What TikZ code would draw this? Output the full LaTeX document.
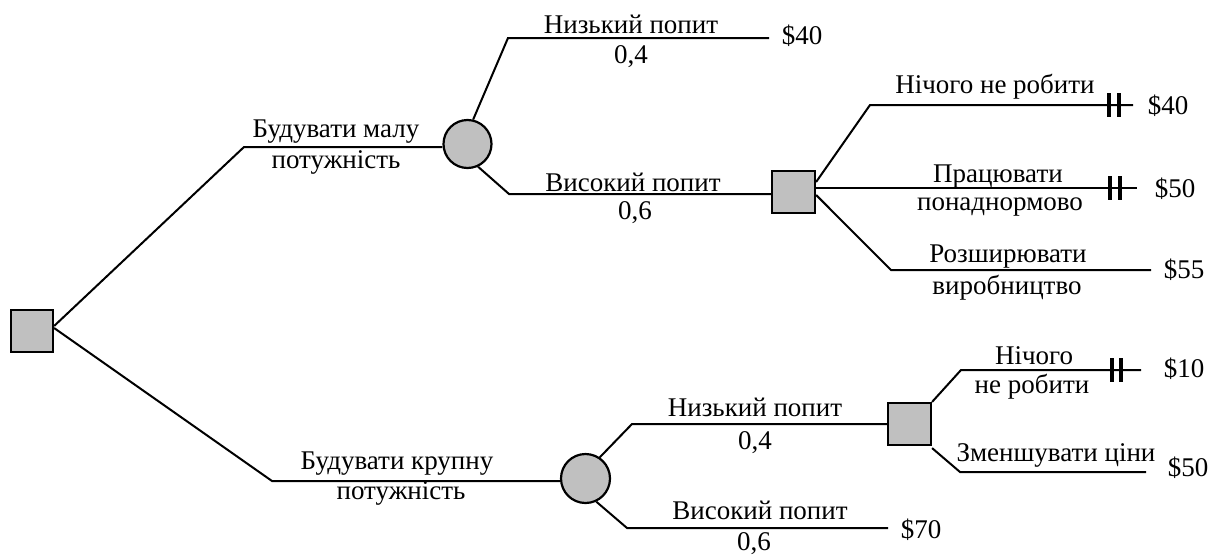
\documentclass[tikz,border=0pt]{standalone}
\usepackage{fontspec}
\setmainfont{Liberation Serif}
\begin{document}
\begin{tikzpicture}[x=1pt,y=-1pt,
  edge/.style={line width=2pt},
  decbox/.style={draw,line width=2.2pt,fill=boxgray,minimum width=42pt,minimum height=42pt,inner sep=0pt},
  chance/.style={draw,line width=2.2pt,fill=boxgray,circle,minimum size=48pt,inner sep=0pt},
  lbl/.style={font=\fontsize{27}{29}\selectfont,inner sep=0pt,anchor=center},
  tick/.style={line width=3.5pt}
]
\definecolor{boxgray}{HTML}{C0C0C0}
\useasboundingbox (0,0) rectangle (1208,555);
% nodes
\node[decbox] (root) at (32,331) {};
\node[chance] (c1) at (467.5,144) {};
\node[decbox,minimum width=43pt] (d2) at (793.5,192) {};
\node[chance,minimum size=49pt] (c2) at (585.5,478.5) {};
\node[decbox,minimum width=43pt] (d3) at (909.5,424) {};
% bend coordinates
\coordinate (f1) at (244,147);
\coordinate (f2) at (272,481);
\coordinate (a1) at (508,38);
\coordinate (a1e) at (769,38);
\coordinate (b1) at (509,194);
\coordinate (t1) at (870,105);
\coordinate (t1e) at (1133,105);
\coordinate (m1e) at (1137,188);
\coordinate (r1) at (891,270);
\coordinate (r1e) at (1151,270);
\coordinate (a2) at (632,424);
\coordinate (b2) at (627,528);
\coordinate (b2e) at (888,528);
\coordinate (s1) at (961,370);
\coordinate (s1e) at (1141,370);
\coordinate (z1) at (960,472);
\coordinate (z1e) at (1146,472);
% connectors
\draw[edge] ([yshift=5pt]root.east) -- (f1) -- (f1 -| c1.west);
\draw[edge] ([yshift=3pt]root.east) -- (f2) -- (f2 -| c2.west);
\draw[edge] (c1.77) -- (a1) -- (a1e);
\draw[edge] (c1.-65) -- (b1) -- (b1 -| d2.west);
\draw[edge] ([yshift=10pt]d2.east) -- (t1) -- (t1e);
\draw[edge] ([yshift=4pt]d2.east) -- (d2.east |- m1e) -- (m1e);
\draw[edge] ([yshift=-3pt]d2.east) -- (r1) -- (r1e);
\draw[edge] (c2.56) -- (a2) -- (a2 -| d3.west);
\draw[edge] (c2.-65) -- (b2) -- (b2e);
\draw[edge] (d3.north east) -- (s1) -- (s1e);
\draw[edge] ([yshift=-2pt]d3.south east) -- (z1) -- (z1e);
% blocking ticks
\draw[tick] ([xshift=-24pt,yshift=12pt]t1e) -- ([xshift=-24pt,yshift=-12pt]t1e);
\draw[tick] ([xshift=-14pt,yshift=12pt]t1e) -- ([xshift=-14pt,yshift=-12pt]t1e);
\draw[tick] ([xshift=-27pt,yshift=12pt]m1e) -- ([xshift=-27pt,yshift=-12pt]m1e);
\draw[tick] ([xshift=-17pt,yshift=12pt]m1e) -- ([xshift=-17pt,yshift=-12pt]m1e);
\draw[tick] ([xshift=-29pt,yshift=12pt]s1e) -- ([xshift=-29pt,yshift=-12pt]s1e);
\draw[tick] ([xshift=-20pt,yshift=12pt]s1e) -- ([xshift=-20pt,yshift=-12pt]s1e);
% labels
\node[lbl] (l1) at (336,132) {Будувати малу};
\node[lbl] (l2) at (336,162) {потужність};
\node[lbl] (l3) at (631,24) {Низький попит};
\node[lbl] (l4) at (631,57) {0,4};
\node[lbl] (l5) at (802,36) {\$40};
\node[lbl] (l6) at (633,182) {Високий попит};
\node[lbl] (l7) at (635,213) {0,6};
\node[lbl] (l8) at (995,87) {Нічого не робити};
\node[lbl] (l9) at (1168,106) {\$40};
\node[lbl] (l10) at (998,177) {Працювати};
\node[lbl] (l11) at (1000,207) {понаднормово};
\node[lbl] (l12) at (1175,189) {\$50};
\node[lbl] (l13) at (1008,257) {Розширювати};
\node[lbl] (l14) at (1007,288) {виробництво};
\node[lbl] (l15) at (1184,270) {\$55};
\node[lbl] (l16) at (397,464) {Будувати крупну};
\node[lbl] (l17) at (401,493) {потужність};
\node[lbl] (l18) at (755,407) {Низький попит};
\node[lbl] (l19) at (755,443) {0,4};
\node[lbl] (l20) at (760,510) {Високий попит};
\node[lbl] (l21) at (754,544) {0,6};
\node[lbl] (l22) at (921,530) {\$70};
\node[lbl] (l23) at (1034,356) {Нічого};
\node[lbl] (l24) at (1032,387) {не робити};
\node[lbl] (l25) at (1184,369) {\$10};
\node[lbl] (l26) at (1056,455) {Зменшувати ціни};
\node[lbl] (l27) at (1188,468) {\$50};
\end{tikzpicture}
\end{document}
